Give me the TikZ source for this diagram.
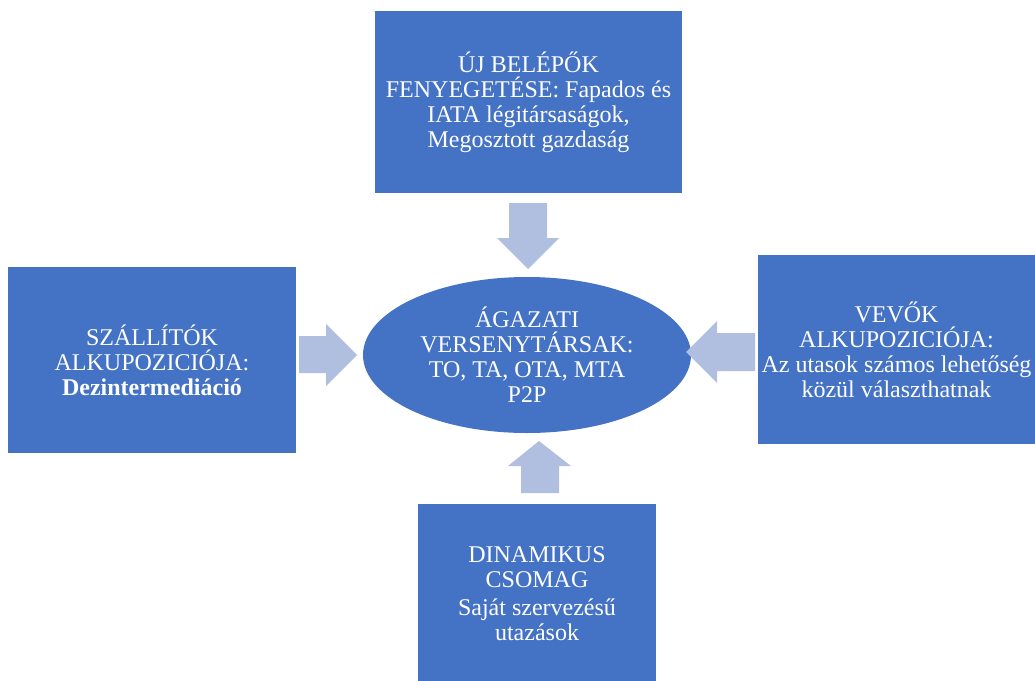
\documentclass[tikz,border=0pt]{standalone}
\usepackage{fontspec}
\setmainfont{Liberation Serif}
\usetikzlibrary{shapes.geometric}
\definecolor{boxblue}{HTML}{4472C4}
\definecolor{arrowblue}{HTML}{B0BEDF}
\begin{document}
\begin{tikzpicture}[x=1pt,y=-1pt,
  box/.style={fill=boxblue,draw=none,text=white,align=center,inner sep=0pt,
    font=\fontsize{24}{25}\selectfont},
  blockarrow/.style={fill=arrowblue,draw=none}]
\useasboundingbox (0,0) rectangle (1035,680);
\clip (0,0) rectangle (1035,680);
% boxes
\node[box,minimum width=307pt,minimum height=182pt] (top) at (528.5,102)
  {ÚJ BELÉPŐK\\FENYEGETÉSE: Fapados és\\IATA légitársaságok,\\Megosztott gazdaság};
\node[box,minimum width=288pt,minimum height=186pt] (left) at (152,360)
  {SZÁLLÍTÓK\\ALKUPOZICIÓJA:\\\textbf{Dezintermediáció}};
\node[box,minimum width=277pt,minimum height=189pt] (right) at (896.5,349.5)
  {VEVŐK\\ALKUPOZICIÓJA:\\Az utasok számos lehetőség\\közül választhatnak};
\node[box,minimum width=238pt,minimum height=180pt] (bottom) at (537,594)
  {DINAMIKUS\\CSOMAG\\[3pt]Saját szervezésű\\utazások};
\node[box,ellipse,minimum width=328pt,minimum height=156pt] (center) at (527,355)
  {ÁGAZATI\\VERSENYTÁRSAK:\\TO, TA, OTA, MTA\\P2P};
% block arrows
\fill[blockarrow] (509,203) -- (547,203) -- (547,238) -- (559,238) -- (528,269)
  -- (497,238) -- (509,238) -- cycle;
\fill[blockarrow] (299,336) -- (326,336) -- (326,324) -- (357,355) -- (326,386)
  -- (326,373) -- (299,373) -- cycle;
\fill[blockarrow] (755,333) -- (717,333) -- (717,321) -- (686,352) -- (717,383)
  -- (717,371) -- (755,371) -- cycle;
\fill[blockarrow] (521,493) -- (559,493) -- (559,466) -- (571,466) -- (539,441)
  -- (508,466) -- (521,466) -- cycle;
\end{tikzpicture}
\end{document}
